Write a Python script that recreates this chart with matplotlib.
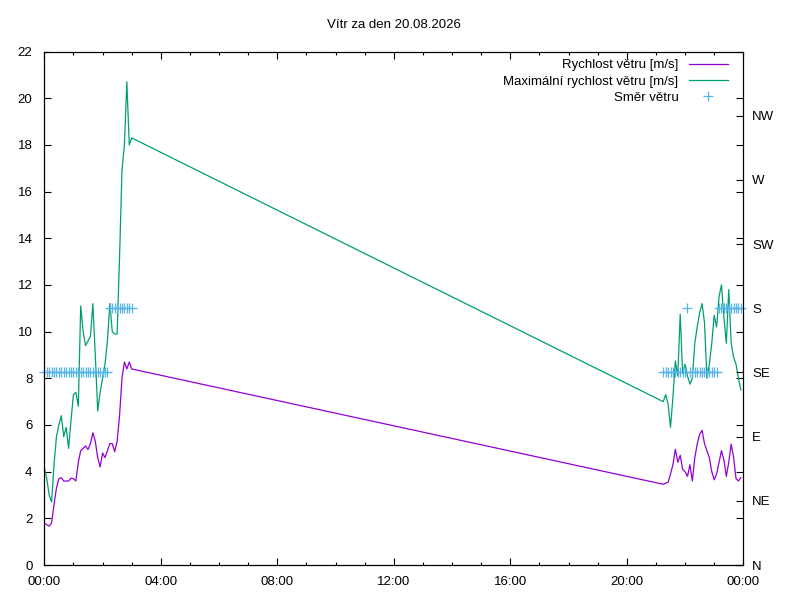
import matplotlib
matplotlib.use("Agg")
import matplotlib.pyplot as plt
from matplotlib.ticker import MultipleLocator

plt.rcParams['font.family'] = ['Liberation Sans', 'DejaVu Sans']
plt.rcParams['font.size'] = 9.5

title = "Vítr za den 20.08.2026"

# morning block of measurements
times_am = ["00:00", "00:05", "00:10", "00:15", "00:20", "00:25", "00:30", "00:35",
            "00:40", "00:45", "00:50", "00:55", "01:00", "01:05", "01:10", "01:15",
            "01:20", "01:25", "01:30", "01:35", "01:40", "01:45", "01:50", "01:55",
            "02:00", "02:05", "02:10", "02:15", "02:20", "02:25", "02:30", "02:35",
            "02:40", "02:45", "02:50", "02:55", "03:00"]
speed_am = [1.81, 1.72, 1.67, 1.8, 2.6, 3.3, 3.7, 3.74, 3.6, 3.6, 3.6, 3.72, 3.7,
            3.6, 4.4, 4.9, 5.0, 5.1, 4.95, 5.2, 5.67, 5.3, 4.6, 4.2, 4.8, 4.6,
            4.9, 5.2, 5.2, 4.85, 5.3, 6.4, 8.0, 8.7, 8.4, 8.7, 8.4]
gust_am = [4.17, 3.7, 3.0, 2.7, 4.3, 5.5, 6.0, 6.4, 5.5, 5.9, 5.0, 6.2, 7.3,
           7.4, 6.8, 11.1, 10.0, 9.4, 9.6, 9.8, 11.2, 9.0, 6.6, 7.4, 8.0, 8.6,
           9.6, 11.2, 10.0, 9.9, 9.9, 13.2, 16.9, 18.0, 20.7, 18.0, 18.3]
dir_am = ["SE"] * 27 + ["S"] * 10

# evening block
times_pm = ["21:15", "21:20", "21:25", "21:30", "21:35", "21:40", "21:45", "21:50",
            "21:55", "22:00", "22:05", "22:10", "22:15", "22:20", "22:25", "22:30",
            "22:35", "22:40", "22:45", "22:50", "22:55", "23:00", "23:05", "23:10",
            "23:15", "23:20", "23:25", "23:30", "23:35", "23:40", "23:45", "23:50",
            "23:55"]
speed_pm = [3.46, 3.5, 3.55, 3.9, 4.3, 4.96, 4.4, 4.7, 4.1, 4.0, 3.8, 4.3, 3.6,
            4.6, 5.18, 5.6, 5.77, 5.2, 4.9, 4.6, 4.0, 3.65, 3.9, 4.4, 4.9, 4.5,
            3.8, 4.4, 5.18, 4.6, 3.7, 3.6, 3.75]
gust_pm = [7.0, 7.3, 6.9, 5.9, 7.2, 8.75, 8.1, 10.75, 8.2, 8.6, 8.1, 7.75, 8.0,
           9.5, 10.2, 10.8, 11.2, 10.4, 8.0, 8.6, 9.5, 10.7, 10.2, 11.5, 12.0,
           10.6, 9.5, 11.8, 9.5, 8.9, 8.6, 8.0, 7.5]
dir_pm = ["SE"] * 10 + ["S"] + ["SE"] * 12 + ["S"] * 10

compass = ["N", "NE", "E", "SE", "S", "SW", "W", "NW"]
compass_deg = [0, 45, 90, 135, 180, 225, 270, 315]
xtick_labels = ["00:00", "04:00", "08:00", "12:00", "16:00", "20:00", "00:00"]


def to_hours(s):
    h, m = s.split(":")
    return int(h) + int(m) / 60.0


t = [to_hours(s) for s in times_am + times_pm]
speed = speed_am + speed_pm
gust = gust_am + gust_pm
deg_of = dict(zip(compass, compass_deg))
direction = [deg_of[d] for d in dir_am + dir_pm]

fig = plt.figure(figsize=(8, 6), dpi=100)
ax = fig.add_axes([0.0554, 0.0583, 0.87375, 0.8558])
ax2 = ax.twinx()

l1, = ax.plot(t, speed, color='#9400d3', lw=0.9, label='Rychlost větru [m/s]')
l2, = ax.plot(t, gust, color='#009e73', lw=0.9, label='Maximální rychlost větru [m/s]')
l3, = ax2.plot(t, direction, ls='none', marker='+', ms=6.5, mew=0.9,
               color='#56b4e9', clip_on=False, label='Směr větru')

ax.set_xlim(0, 24)
ax.set_ylim(0, 22)
ax.set_xticks(range(0, 25, 4))
ax.set_xticklabels(xtick_labels)
ax.xaxis.set_minor_locator(MultipleLocator(1))
ax.set_yticks(range(0, 23, 2))
ax.tick_params(which='both', direction='in', top=True, right=True)
ax.tick_params(which='major', length=5, width=0.8)
ax.tick_params(which='minor', length=2.5, width=0.8)
ax.tick_params(axis='x', pad=8)
ax.tick_params(axis='y', pad=8.5)

ax2.set_ylim(0, 360)
ax2.set_yticks(compass_deg)
ax2.set_yticklabels(compass)
ax2.tick_params(direction='in', length=5, width=0.8, pad=6.5)

for a in (ax, ax2):
    for s in a.spines.values():
        s.set_linewidth(0.8)

fig.text(0.492, 1 - 25 / 600, title, ha='center', va='center')

ax2.legend(handles=[l1, l2, l3], loc='upper right', bbox_to_anchor=(0.978, 0.985),
           frameon=False, markerfirst=False, borderaxespad=0, borderpad=0,
           handlelength=2.95, handletextpad=0.8, labelspacing=0.3)

fig.savefig("out.png", dpi=100)
